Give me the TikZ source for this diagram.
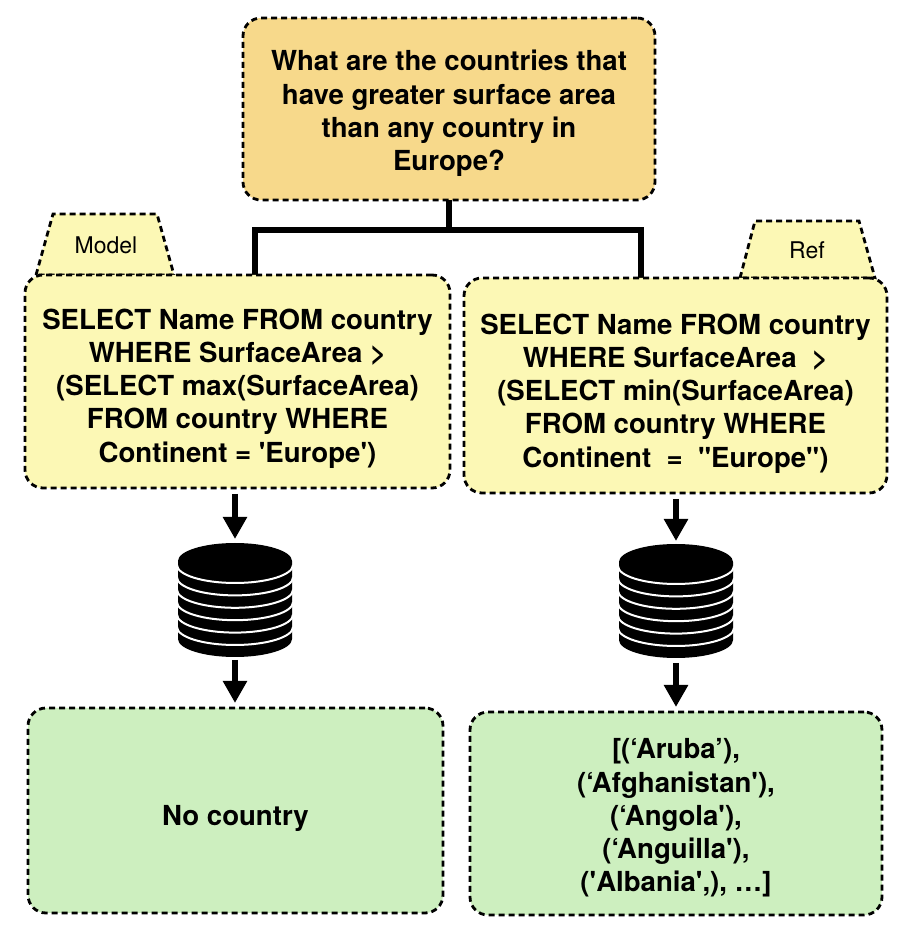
\documentclass[tikz,border=0pt]{standalone}
\usepackage{fontspec}
\setmainfont{TeX Gyre Heros}[Ligatures=TeXOff]
\usetikzlibrary{arrows.meta,calc}
\definecolor{qorange}{HTML}{F7D98B}
\definecolor{syellow}{HTML}{FCF8B5}
\definecolor{rgreen}{HTML}{CDEFBF}
\begin{document}
\begin{tikzpicture}[x=1pt,y=1pt,
  dashline/.style={draw, dash pattern=on 6pt off 4pt, line width=2.8pt},
  box/.style={dashline, rounded corners=18pt, inner sep=0pt, outer sep=0pt},
  txt/.style={font=\bfseries\fontsize{27.6}{33.2}\selectfont, align=center, inner sep=0pt},
  tabtxt/.style={font=\fontsize{23}{27}\selectfont, inner sep=0pt},
  conn/.style={line width=6pt},
  flow/.style={line width=6pt, -{Triangle[width=23pt,length=22pt]}},
  dbnode/.style={minimum width=114pt, minimum height=116pt, inner sep=0pt, outer sep=0pt}]
\useasboundingbox (0,0) rectangle (898,930);

% connectors from question
\coordinate (j) at (449,930-230);
\coordinate (mt) at (255,930-276);
\coordinate (rt) at (641,930-279);

% question box
\node[box, fill=qorange, minimum width=412pt, minimum height=182pt] (q) at (449,930-109) {};
\node[txt] (qt) at (449,930-113.5) {What are the countries that\\have greater surface area\\than any country in\\Europe?};

\draw[conn] (q.south) -- (j);
\draw[conn] (j) -| (mt);
\draw[conn] (j) -| (rt);

% tabs
\filldraw[dashline, fill=syellow] (36,930-275) -- (53,930-214) -- (157,930-214) -- (174,930-275) -- cycle;
\node[tabtxt] (mtab) at (106,930-245) {Model};
\filldraw[dashline, fill=syellow] (740,930-278) -- (755,930-221) -- (859,930-221) -- (875,930-278) -- cycle;
\node[tabtxt] (rtab) at (807,930-250) {Ref};

% SQL boxes
\node[box, fill=syellow, minimum width=425pt, minimum height=213pt] (m) at (237.5,930-381.5) {};
\node[txt] (mtx) at (237.5,930-388.5) {SELECT Name FROM country\\WHERE SurfaceArea >\\(SELECT max(SurfaceArea)\\FROM country WHERE\\Continent = 'Europe')};
\node[box, fill=syellow, minimum width=423pt, minimum height=215pt] (r) at (675.5,930-385.5) {};
\node[txt] (rtx) at (675.5,930-393.5) {SELECT Name FROM country\\WHERE SurfaceArea\ \ >\\(SELECT min(SurfaceArea)\\FROM country WHERE\\Continent\ \ =\ \ "Europe")};

% databases
\node[dbnode] (db1) at (235,930-600) {};
\node[dbnode] (db2) at (676,930-601) {};
\foreach \cx/\cy in {235/600, 676/601} {
  \fill[black] (\cx-57,930-\cy+39) arc[start angle=180, end angle=0, x radius=57, y radius=18]
     -- (\cx+57,930-\cy-39) arc[start angle=0, end angle=-180, x radius=57, y radius=18] -- cycle;
  \foreach \k in {0,...,5} {
    \draw[white, line width=2pt] (\cx-58,930-\cy+35-12.4*\k) arc[start angle=180, end angle=360, x radius=58, y radius=18];
  }
}

% result boxes
\node[box, fill=rgreen, minimum width=415pt, minimum height=205pt] (g1) at (235.5,930-810.5) {};
\node[txt] (g1t) at (235.5,930-818) {No country};
\node[box, fill=rgreen, minimum width=412pt, minimum height=203pt] (g2) at (676,930-813.5) {};
\node[txt] (g2t) at (676,930-818) {[(‘Aruba’),\\(‘Afghanistan'),\\(‘Angola'),\\(‘Anguilla'),\\('Albania',), …]};

% flow arrows
\draw[flow, shorten <=6pt, shorten >=3pt] (m.south -| db1.north) -- (db1.north);
\draw[flow, shorten <=6pt, shorten >=2pt] (r.south -| db2.north) -- (db2.north);
\draw[flow, shorten <=2pt, shorten >=5pt] (db1.south) -- (g1.north -| db1.south);
\draw[flow, shorten <=4pt, shorten >=5pt] (db2.south) -- (g2.north -| db2.south);
\end{tikzpicture}
\end{document}
